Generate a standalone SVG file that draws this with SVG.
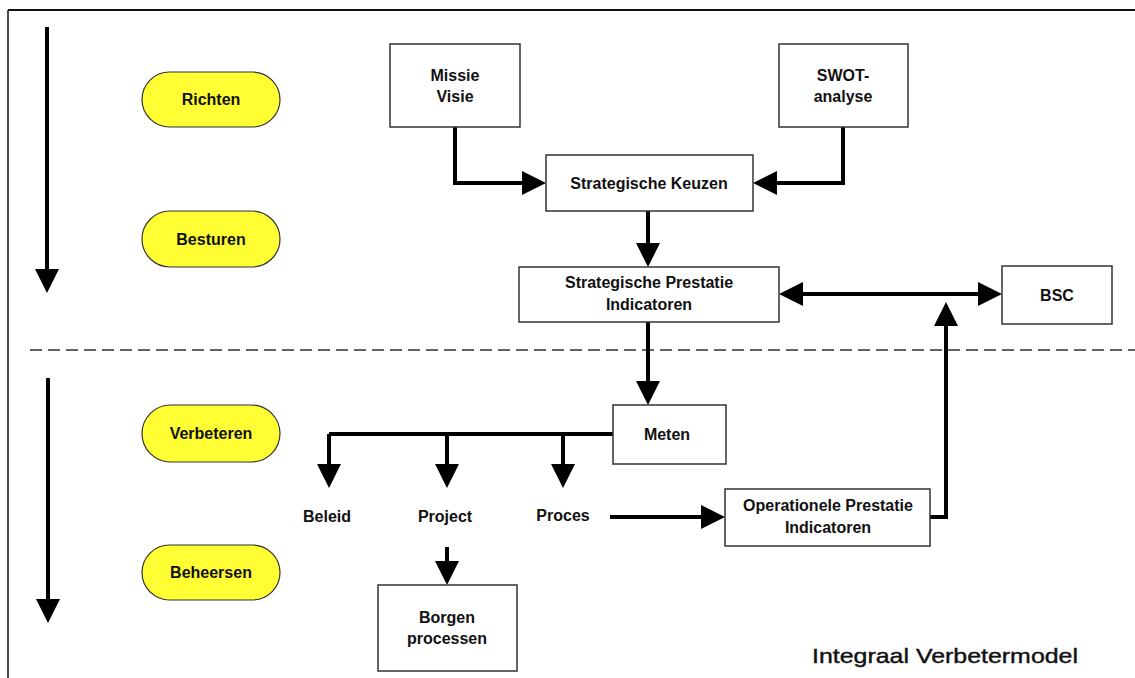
<svg xmlns="http://www.w3.org/2000/svg" width="1135" height="678" viewBox="0 0 1135 678">
<style>
.box{fill:#fff;stroke:#333;stroke-width:1.5}
.pill{fill:#ffff33;stroke:#333;stroke-width:1.2}
.t{font-family:"Liberation Sans",Arial,sans-serif;font-weight:bold;font-size:16px;fill:#111;text-anchor:middle}
.c{fill:none;stroke:#000;stroke-width:4}
.ah{marker-end:url(#ar)}
</style>
<defs>
<marker id="ar" markerUnits="userSpaceOnUse" markerWidth="24" markerHeight="24" viewBox="0 0 24 24" refX="12" refY="12" orient="auto">
<path d="M0,0 L24,12 L0,24 z" fill="#000"/>
</marker>
<marker id="arS" markerUnits="userSpaceOnUse" markerWidth="24" markerHeight="24" viewBox="0 0 24 24" refX="12" refY="12" orient="auto-start-reverse">
<path d="M0,0 L24,12 L0,24 z" fill="#000"/>
</marker>
</defs>
<rect width="1135" height="678" fill="#fff"/>
<g id="frame">
<line x1="8" y1="10" x2="1135" y2="10" stroke="#111" stroke-width="2"/>
<line x1="8" y1="10" x2="8" y2="678" stroke="#111" stroke-width="1.5"/>
<line x1="30" y1="350" x2="1135" y2="350" stroke="#333" stroke-width="1.5" stroke-dasharray="12 6"/>
</g>
<g id="connectors">
<line class="c ah" x1="47" y1="27" x2="47" y2="281"/>
<line class="c ah" x1="48" y1="378" x2="48" y2="611"/>
<polyline class="c ah" points="455,127 455,183 534,183"/>
<polyline class="c ah" points="843,127 843,183 765,183"/>
<line class="c ah" x1="648" y1="211" x2="648" y2="255"/>
<line class="c" x1="791" y1="294" x2="990" y2="294" marker-start="url(#arS)" marker-end="url(#ar)"/>
<polyline class="c ah" points="930,517 946,517 946,314"/>
<line class="c ah" x1="648" y1="322" x2="648" y2="393"/>
<polyline class="c" points="613,434 329,434"/>
<line class="c ah" x1="329" y1="434" x2="329" y2="476"/>
<line class="c ah" x1="447" y1="434" x2="447" y2="476"/>
<line class="c ah" x1="563" y1="434" x2="563" y2="476"/>
<line class="c ah" x1="610" y1="517" x2="713" y2="517"/>
<line class="c ah" x1="447" y1="547" x2="447" y2="573"/>
</g>
<g id="richten"><rect class="pill" x="142" y="72" width="138" height="55" rx="27.5"/><text class="t" x="211" y="105">Richten</text></g>
<g id="besturen"><rect class="pill" x="142" y="211" width="138" height="56" rx="28"/><text class="t" x="211" y="245">Besturen</text></g>
<g id="verbeteren"><rect class="pill" x="142" y="405" width="138" height="57" rx="28.5"/><text class="t" x="211" y="439">Verbeteren</text></g>
<g id="beheersen"><rect class="pill" x="142" y="545" width="138" height="55" rx="27.5"/><text class="t" x="211" y="578">Beheersen</text></g>
<g id="missie"><rect class="box" x="390" y="44" width="130" height="83"/><text class="t" x="455" y="81">Missie</text><text class="t" x="455" y="102">Visie</text></g>
<g id="swot"><rect class="box" x="779" y="44" width="129" height="83"/><text class="t" x="843" y="81">SWOT-</text><text class="t" x="843" y="102">analyse</text></g>
<g id="keuzen"><rect class="box" x="546" y="155" width="207" height="56"/><text class="t" x="649" y="189">Strategische Keuzen</text></g>
<g id="spi"><rect class="box" x="519" y="267" width="260" height="55"/><text class="t" x="649" y="288">Strategische Prestatie</text><text class="t" x="649" y="310">Indicatoren</text></g>
<g id="bsc"><rect class="box" x="1002" y="266" width="110" height="58"/><text class="t" x="1057" y="301">BSC</text></g>
<g id="meten"><rect class="box" x="613" y="405" width="113" height="59"/><text class="t" x="667" y="440">Meten</text></g>
<g id="beleid"><text class="t" x="327" y="522">Beleid</text></g>
<g id="project"><text class="t" x="445" y="522">Project</text></g>
<g id="proces"><text class="t" x="563" y="521">Proces</text></g>
<g id="opi"><rect class="box" x="725" y="489" width="205" height="57"/><text class="t" x="828" y="511">Operationele Prestatie</text><text class="t" x="828" y="533">Indicatoren</text></g>
<g id="borgen"><rect class="box" x="378" y="585" width="139" height="86"/><text class="t" x="447" y="623">Borgen</text><text class="t" x="447" y="644">processen</text></g>
<g id="title"><text x="945" y="663" font-family="'Liberation Sans',Arial,sans-serif" font-size="21" fill="#111" stroke="#111" stroke-width="0.4" text-anchor="middle" textLength="266" lengthAdjust="spacingAndGlyphs">Integraal Verbetermodel</text></g>
</svg>
